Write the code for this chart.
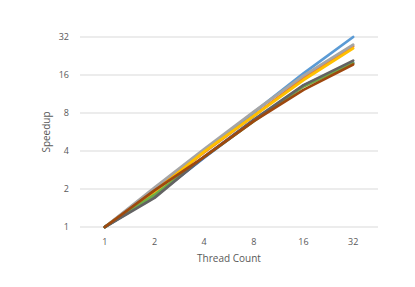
<!DOCTYPE html>
<html>
<head>
<meta charset="utf-8">
<script src="https://cdn.jsdelivr.net/npm/d3@7"></script>
<style>
  body { margin: 0; background: #fff; }
  text { font-family: 'Open Sans', 'Liberation Sans', sans-serif; fill: #595959; }
</style>
</head>
<body>
<div id="chart"></div>
<script>
const threads = ['1', '2', '4', '8', '16', '32'];
const yTicks = [1, 2, 4, 8, 16, 32];

const sBlue = [1, 2.0, 4.0, 8.1, 16.5, 32];
const sOrange = [1, 1.95, 3.9, 7.6, 15.2, 27];
const sGray = [1, 2.05, 4.15, 8.2, 15.8, 27.8];
const sYellow = [1, 1.9, 3.95, 7.6, 14.6, 26];
const sDarkBlue = [1, 1.75, 3.55, 7.0, 13.2, 20];
const sGreen = [1, 1.8, 3.6, 6.9, 13.0, 19.8];
const sDarkGray = [1, 1.7, 3.6, 7.1, 13.3, 20.8];
const sDarkOrange = [1, 1.95, 3.6, 6.9, 12.2, 19.4];

const series = [
  { values: sBlue, color: '#5B9BD5' },
  { values: sOrange, color: '#ED7D31' },
  { values: sGray, color: '#A5A5A5' },
  { values: sYellow, color: '#FFC000' },
  { values: sDarkBlue, color: '#4472C4' },
  { values: sGreen, color: '#70AD47' },
  { values: sDarkGray, color: '#636363' },
  { values: sDarkOrange, color: '#9E480E' },
];

const width = 415;
const height = 287;
const margin = { top: 37, right: 37, bottom: 60, left: 80 };

const svg = d3
  .select('#chart')
  .append('svg')
  .attr('width', width)
  .attr('height', height);

const xScale = d3
  .scalePoint()
  .domain(threads)
  .range([margin.left, width - margin.right])
  .padding(0.5);

const yScale = d3
  .scaleLog()
  .base(2)
  .domain([1, 32])
  .range([height - margin.bottom, margin.top]);

// grid
svg
  .append('g')
  .selectAll('line')
  .data(yTicks)
  .join('line')
  .attr('x1', margin.left)
  .attr('x2', width - margin.right)
  .attr('y1', (d) => yScale(d))
  .attr('y2', (d) => yScale(d))
  .attr('stroke', '#D9D9D9')
  .attr('stroke-width', 1);

// y labels
svg
  .append('g')
  .selectAll('text')
  .data(yTicks)
  .join('text')
  .attr('x', margin.left - 11)
  .attr('y', (d) => yScale(d))
  .attr('dy', '0.35em')
  .attr('text-anchor', 'end')
  .style('font-size', '9px')
  .text((d) => d);

// x labels
svg
  .append('g')
  .selectAll('text')
  .data(threads)
  .join('text')
  .attr('x', (d) => xScale(d))
  .attr('y', height - margin.bottom + 18)
  .attr('text-anchor', 'middle')
  .style('font-size', '9px')
  .text((d) => d);

svg
  .append('text')
  .attr('x', (margin.left + width - margin.right) / 2)
  .attr('y', height - margin.bottom + 35)
  .attr('text-anchor', 'middle')
  .style('font-size', '10px')
  .text('Thread Count');

svg
  .append('text')
  .attr('transform', `translate(50, ${(margin.top + height - margin.bottom) / 2}) rotate(-90)`)
  .attr('text-anchor', 'middle')
  .style('font-size', '10px')
  .text('Speedup');

const line = d3
  .line()
  .x((d, i) => xScale(threads[i]))
  .y((d) => yScale(d));

svg
  .append('g')
  .selectAll('path')
  .data(series)
  .join('path')
  .attr('d', (d) => line(d.values))
  .attr('fill', 'none')
  .attr('stroke', (d) => d.color)
  .attr('stroke-width', 2.75)
  .attr('stroke-linejoin', 'round')
  .attr('stroke-linecap', 'round');
</script>
</body>
</html>
